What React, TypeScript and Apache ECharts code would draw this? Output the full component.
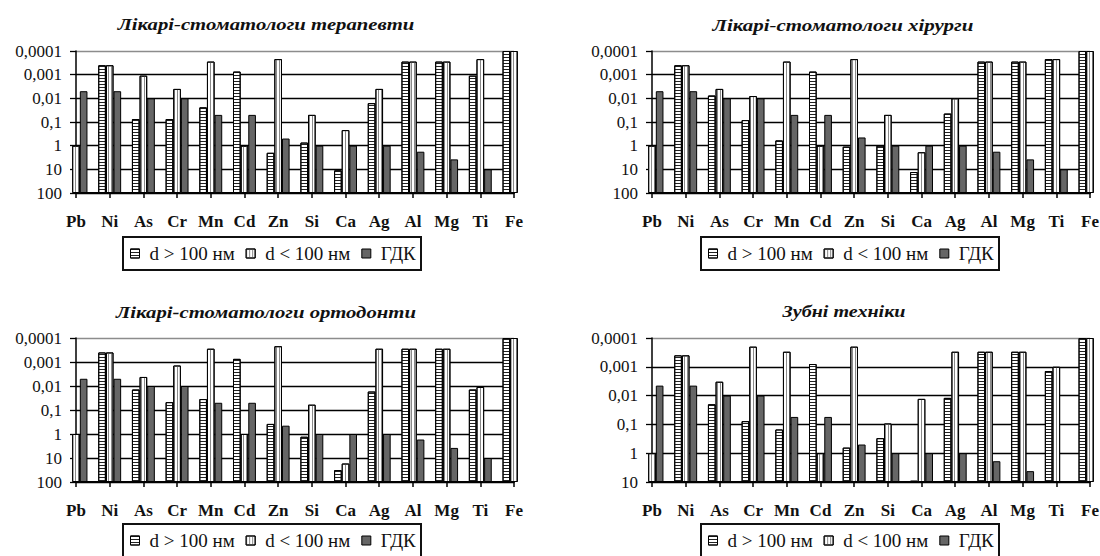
import React, { useEffect, useRef } from 'react';
import * as echarts from 'echarts';

// ---------- data ----------
const categories = ['Pb', 'Ni', 'As', 'Cr', 'Mn', 'Cd', 'Zn', 'Si', 'Ca', 'Ag', 'Al', 'Mg', 'Ti', 'Fe'];
const seriesNames = ['d > 100 нм', 'd < 100 нм', 'ГДК'];
const panelTitles = [
  'Лікарі-стоматологи терапевти',
  'Лікарі-стоматологи хірурги',
  'Лікарі-стоматологи ортодонти',
  'Зубні техніки',
];
const yLabelsTo100 = ['100', '10', '1', '0,1', '0,01', '0,001', '0,0001'];
const yLabelsTo10 = ['10', '1', '0,1', '0,01', '0,001', '0,0001'];

// Терапевти
const therapistsLarge = [null, 0.0004, 0.075, 0.075, 0.024, 0.00074, 2, 0.74, 11, 0.016, 0.00028, 0.00028, 0.0011, 0.0001];
const therapistsSmall = [1, 0.0004, 0.0011, 0.004, 0.00028, 1, 0.00022, 0.05, 0.22, 0.004, 0.00028, 0.00028, 0.00022, 0.0001];
const therapistsGdk = [0.005, 0.005, 0.01, 0.01, 0.05, 0.05, 0.5, 1, 1, 1, 1.8, 3.8, 10, null];

// Хірурги
const surgeonsLarge = [null, 0.0004, 0.0076, 0.083, 0.6, 0.00074, 1.1, 1, 13, 0.044, 0.00028, 0.00028, 0.00022, 0.0001];
const surgeonsSmall = [1, 0.0004, 0.004, 0.008, 0.00028, 1, 0.00022, 0.05, 1.9, 0.01, 0.00028, 0.00028, 0.00022, 0.0001];
const surgeonsGdk = [0.005, 0.005, 0.01, 0.01, 0.05, 0.05, 0.45, 1, 1, 1, 1.8, 3.8, 10, null];

// Ортодонти
const orthodontistsLarge = [null, 0.0004, 0.014, 0.047, 0.035, 0.00074, 0.38, 1.3, 32, 0.017, 0.00028, 0.00028, 0.014, 0.0001];
const orthodontistsSmall = [1, 0.0004, 0.0042, 0.0014, 0.00028, 1, 0.00022, 0.06, 17, 0.00028, 0.00028, 0.00028, 0.011, 0.0001];
const orthodontistsGdk = [0.005, 0.005, 0.01, 0.01, 0.05, 0.05, 0.45, 1, 1, 1, 1.7, 3.8, 10, null];

// Зубні техніки
const techniciansLarge = [null, 0.0004, 0.02, 0.077, 0.15, 0.0008, 0.64, 0.3, 9, 0.012, 0.0003, 0.0003, 0.0014, 0.0001];
const techniciansSmall = [1, 0.0004, 0.0033, 0.0002, 0.0003, 1, 0.0002, 0.093, 0.013, 0.0003, 0.0003, 0.0003, 0.001, 0.0001];
const techniciansGdk = [0.0045, 0.0045, 0.01, 0.01, 0.055, 0.055, 0.5, 1, 1, 1, 1.9, 4.2, 10, null];

const panelData = [
  [therapistsLarge, therapistsSmall, therapistsGdk],
  [surgeonsLarge, surgeonsSmall, surgeonsGdk],
  [orthodontistsLarge, orthodontistsSmall, orthodontistsGdk],
  [techniciansLarge, techniciansSmall, techniciansGdk],
];
const panelYLabels = [yLabelsTo100, yLabelsTo100, yLabelsTo100, yLabelsTo10];

// ---------- layout ----------
const LAYOUT = [
  { left: 76, top: 51, width: 438, height: 142, titleX: 266, titleY: 25, titleW: 297, legendX: 130, legendY: 244, boxX: 123, boxY: 237 },
  { left: 652, top: 51, width: 438, height: 142, titleX: 843, titleY: 25, titleW: 261, legendX: 708, legendY: 244, boxX: 701, boxY: 237 },
  { left: 76, top: 338, width: 438, height: 144, titleX: 266, titleY: 312, titleW: 300, legendX: 130, legendY: 531, boxX: 123, boxY: 524 },
  { left: 652, top: 338, width: 438, height: 144, titleX: 844, titleY: 312, titleW: 123, legendX: 708, legendY: 531, boxX: 701, boxY: 524 },
];
const BOX_W = 298;
const BOX_H = 33;
const FONT = 'Liberation Serif';

const seriesStyles = [
  {
    color: '#ffffff',
    borderColor: '#000',
    borderWidth: 1,
    decal: { symbol: 'rect', symbolSize: 1, color: '#222', dashArrayX: [1, 0], dashArrayY: [1, 2], rotation: 0 },
  },
  {
    color: '#ffffff',
    borderColor: '#000',
    borderWidth: 1,
    decal: { symbol: 'rect', symbolSize: 1, color: '#8a8a8a', dashArrayX: [1, 2], dashArrayY: [1, 0], rotation: 0 },
  },
  { color: '#666666', borderColor: '#000', borderWidth: 1 },
];

function measure(text: string, font: string): number {
  const c = document.createElement('canvas');
  const ctx = c.getContext('2d');
  if (!ctx) return 1;
  ctx.font = font;
  return ctx.measureText(text).width || 1;
}

export default function App() {
  const ref = useRef<HTMLDivElement>(null);

  useEffect(() => {
    if (!ref.current) return;
    const chart = echarts.init(ref.current, undefined, { renderer: 'svg' });

    const grids: any[] = [];
    const xAxes: any[] = [];
    const yAxes: any[] = [];
    const series: any[] = [];
    const legends: any[] = [];
    const graphics: any[] = [];

    LAYOUT.forEach((L, p) => {
      const labels = panelYLabels[p];
      const maxT = labels.length - 1;
      const bottomLog = Math.log10(Number(labels[0]));
      grids.push({ left: L.left, top: L.top, width: L.width, height: L.height, containLabel: false, outerBoundsMode: 'none' });
      xAxes.push({
        type: 'category',
        gridIndex: p,
        data: categories,
        boundaryGap: false,
        axisLine: { show: true, lineStyle: { color: '#000', width: 2 } },
        axisTick: { show: true, length: 5, lineStyle: { color: '#000', width: 1.5 } },
        axisLabel: { interval: 0, margin: 20, color: '#111', fontFamily: FONT, fontWeight: 'bold', fontSize: 17 },
        splitLine: { show: false },
      });
      const lineColors = labels.map((_, i) => (i === maxT ? '#8c8c8c' : '#000'));
      yAxes.push({
        type: 'value',
        gridIndex: p,
        min: 0,
        max: maxT,
        interval: 1,
        axisLine: { show: true, lineStyle: { color: '#000', width: 1.5 } },
        axisTick: { show: true, length: 6, lineStyle: { color: '#000', width: 1.3 } },
        axisLabel: {
          margin: 14,
          color: '#111',
          fontFamily: FONT,
          fontSize: 17,
          formatter: (v: number) => labels[Math.round(v)] ?? '',
        },
        splitLine: { show: true, lineStyle: { color: lineColors, width: 1.3 } },
      });
      panelData[p].forEach((arr, k) => {
        series.push({
          type: 'bar',
          name: seriesNames[k],
          xAxisIndex: p,
          yAxisIndex: p,
          data: arr.map((v) => (v == null ? null : bottomLog - Math.log10(v))),
          barGap: '0%',
          barCategoryGap: '32%',
          clip: true,
          itemStyle: seriesStyles[k],
          emphasis: { disabled: true },
        });
      });
      legends.push({
        data: seriesNames,
        left: L.legendX,
        top: L.legendY,
        padding: 0,
        icon: 'rect',
        itemWidth: 9,
        itemHeight: 9,
        itemGap: 11,
        selectedMode: false,
        itemStyle: { borderColor: '#000', borderWidth: 1 },
        textStyle: { fontFamily: FONT, fontSize: 19, color: '#111', padding: [0, 0, 0, 5] },
      });
      const w = measure(panelTitles[p], `italic bold 16px ${FONT}`);
      graphics.push({
        type: 'text',
        x: L.titleX,
        y: L.titleY,
        scaleX: L.titleW / w,
        style: {
          text: panelTitles[p],
          fontFamily: FONT,
          fontStyle: 'italic',
          fontWeight: 'bold',
          fontSize: 16,
          fill: '#111',
          align: 'center',
          verticalAlign: 'middle',
        },
      });
      graphics.push({
        type: 'rect',
        shape: { x: L.boxX, y: L.boxY, width: BOX_W, height: BOX_H },
        style: { fill: 'none', stroke: '#111', lineWidth: 2 },
        silent: true,
      });
    });

    chart.setOption({
      animation: false,
      backgroundColor: '#ffffff',
      grid: grids,
      xAxis: xAxes,
      yAxis: yAxes,
      series,
      legend: legends,
      graphic: graphics,
      tooltip: { show: false },
    });

    return () => chart.dispose();
  }, []);

  return (
    <div
      ref={ref}
      style={{ position: 'absolute', left: 0, top: 0, width: 1100, height: 556, background: '#fff' }}
    />
  );
}
